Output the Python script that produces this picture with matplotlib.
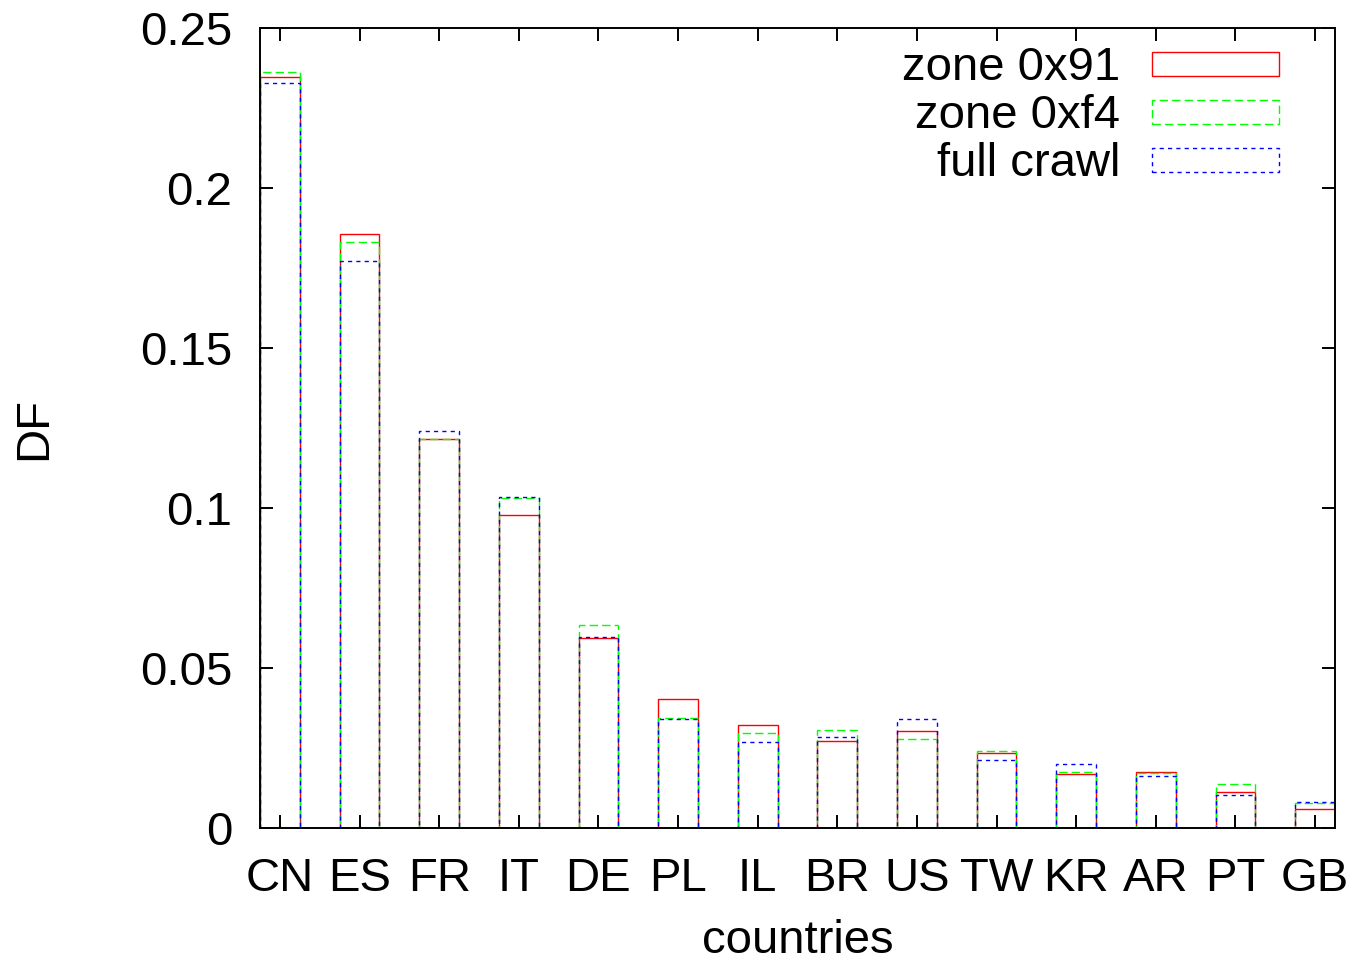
import numpy as np
import matplotlib
matplotlib.use('Agg')
import matplotlib.pyplot as plt
from matplotlib.patches import Rectangle

countries = ['CN', 'ES', 'FR', 'IT', 'DE', 'PL', 'IL', 'BR', 'US', 'TW', 'KR', 'AR', 'PT', 'GB']
zone_91 = [0.2346, 0.1856, 0.1215, 0.0977, 0.0594, 0.0402, 0.0323, 0.0271, 0.0303, 0.0234, 0.0169, 0.0176, 0.0113, 0.0058]
zone_f4 = [0.2363, 0.1832, 0.1215, 0.1032, 0.0633, 0.0345, 0.0298, 0.0307, 0.0278, 0.0241, 0.0175, 0.0173, 0.0136, 0.0078]
full_crawl = [0.2327, 0.1771, 0.1241, 0.1035, 0.0598, 0.0341, 0.0268, 0.0285, 0.0342, 0.0213, 0.0201, 0.0161, 0.0102, 0.0082]
labels = ['zone 0x91', 'zone 0xf4', 'full crawl']

plt.rcParams['font.family'] = ['Liberation Sans', 'DejaVu Sans']

fig = plt.figure(figsize=(13.53, 9.66), dpi=100)
ax = fig.add_axes([260/1353, 1-828/966, 1075/1353, 800/966])

x = np.arange(len(countries))
series = [zone_91, zone_f4, full_crawl]
colors = ['#ff0000', '#00ff00', '#0000ff']
styles = ['-', (0, (6, 3)), (0, (3, 3))]

for vals, c, ls in zip(series, colors, styles):
    ax.bar(x, vals, width=0.5, fill=False, edgecolor=c, linestyle=ls, linewidth=1.0)

ax.set_xlim(-0.25, 13.25)
ax.set_ylim(0, 0.25)
ax.set_yticks([0, 0.05, 0.1, 0.15, 0.2, 0.25])
ax.set_yticklabels(['0', '0.05', '0.1', '0.15', '0.2', '0.25'])
ax.set_xticks(x)
ax.set_xticklabels(countries)
ax.tick_params(direction='in', length=9.5, width=1.4, top=True, right=True, labelsize=34)
ax.tick_params(axis='x', pad=21)
ax.tick_params(axis='y', pad=20)
for s in ax.spines.values():
    s.set_linewidth(1.4)

ax.set_xlabel('countries', fontsize=34, labelpad=13)
ax.set_ylabel('DF', fontsize=34, labelpad=60)

# legend drawn by hand, gnuplot style
for i, (lab, c, ls) in enumerate(zip(labels, colors, styles)):
    yb = 0.94 - 0.06*i
    ax.add_patch(Rectangle((0.8298, yb), 0.1181, 0.03, transform=ax.transAxes, fill=False,
                           edgecolor=c, linestyle=ls, linewidth=1.0))
    ax.text(0.80, 0.935 - 0.06*i, lab, transform=ax.transAxes, ha='right', va='baseline', fontsize=34)

fig.savefig('out.png', dpi=100)
